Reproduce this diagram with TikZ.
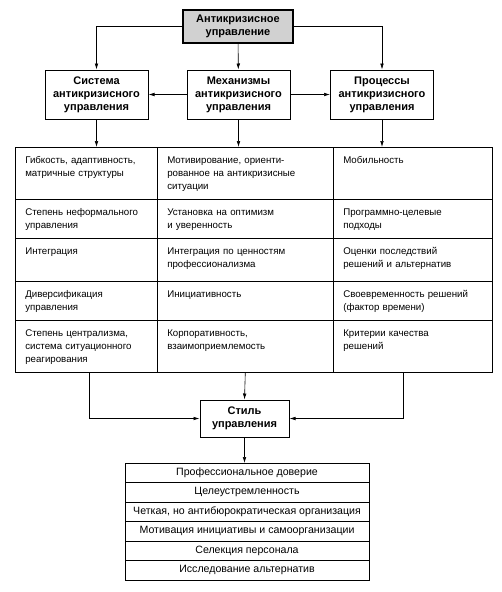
\documentclass[tikz,border=0pt]{standalone}
\usepackage{fontspec}
\setmainfont{Liberation Sans}
\usetikzlibrary{arrows.meta, positioning}

\begin{document}
\begin{tikzpicture}[
    x=1pt, y=-1pt,
    font=\fontsize{9.7}{13.3}\selectfont,
    >={Latex[length=6pt, width=3.6pt]},
    % ── shared styles ──
    head box/.style={draw, line width=1pt, align=center, inner sep=0pt,
        font=\fontsize{11}{13}\selectfont\bfseries,
        minimum width=103pt, minimum height=49pt},
    root box/.style={head box, fill=black!18, line width=1.3pt,
        minimum width=110pt, minimum height=33pt},
    style box/.style={head box, minimum width=89pt, minimum height=37pt},
    cell/.style={draw, line width=0.6pt, anchor=north west, align=left,
        inner xsep=10pt, inner ysep=0pt, text height=16pt, text depth=#1},
    trait/.style={draw, line width=0.6pt, inner sep=0pt, outer sep=0pt,
        font=\fontsize{10.6}{13}\selectfont,
        minimum width=244pt, minimum height=19.5pt},
    link/.style={->, line width=0.6pt},
]

% ══════════════════════════════════════════════════════════════════════
%  DIMENSIONS — table columns and row tops
% ══════════════════════════════════════════════════════════════════════
\def\cA{15}   \def\cB{157}  \def\cC{333}      % column left edges
\def\wA{122pt} \def\wB{156pt} \def\wC{139pt}  % text widths
\def\rA{147}  \def\rB{199}  \def\rC{238}  \def\rD{281}  \def\rE{320}

\useasboundingbox (0,0) rectangle (501,592);

% ══════════════════════════════════════════════════════════════════════
%  HEADER BOXES
% ══════════════════════════════════════════════════════════════════════
\node[root box] (crisis) at (238,26.5) {Антикризисное\\управление};
\node[head box] (sys)  at (96.5,94.5)  {Система\\антикризисного\\управления};
\node[head box] (mech) at (238.5,94.5) {Механизмы\\антикризисного\\управления};
\node[head box] (proc) at (382,94.5)   {Процессы\\антикризисного\\управления};

% ══════════════════════════════════════════════════════════════════════
%  TABLE — system column
% ══════════════════════════════════════════════════════════════════════
\node[cell=36pt, text width=\wA] (s1) at (\cA,\rA) {Гибкость,~адаптивность,\\матричные структуры};
\node[cell=23pt, text width=\wA] (s2) at (\cA,\rB) {Степень~неформального\\управления};
\node[cell=27pt, text width=\wA] (s3) at (\cA,\rC) {Интеграция};
\node[cell=23pt, text width=\wA] (s4) at (\cA,\rD) {Диверсификация\\управления};
\node[cell=36pt, text width=\wA] (s5) at (\cA,\rE)
    {Степень~централизма,\\система~ситуационного\\реагирования};

% ══════════════════════════════════════════════════════════════════════
%  TABLE — mechanisms column
% ══════════════════════════════════════════════════════════════════════
\node[cell=36pt, text width=\wB] (m1) at (\cB,\rA)
    {Мотивирование,~ориенти-\\рованное~на~антикризисные\\ситуации};
\node[cell=23pt, text width=\wB] (m2) at (\cB,\rB) {Установка на оптимизм\\и уверенность};
\node[cell=27pt, text width=\wB] (m3) at (\cB,\rC) {Интеграция по ценностям\\профессионализма};
\node[cell=23pt, text width=\wB] (m4) at (\cB,\rD) {Инициативность};
\node[cell=36pt, text width=\wB] (m5) at (\cB,\rE) {Корпоративность,\\взаимоприемлемость};

% ══════════════════════════════════════════════════════════════════════
%  TABLE — processes column
% ══════════════════════════════════════════════════════════════════════
\node[cell=36pt, text width=\wC] (p1) at (\cC,\rA) {Мобильность};
\node[cell=23pt, text width=\wC] (p2) at (\cC,\rB) {Программно-целевые\\подходы};
\node[cell=27pt, text width=\wC] (p3) at (\cC,\rC) {Оценки последствий\\решений~и~альтернатив};
\node[cell=23pt, text width=\wC] (p4) at (\cC,\rD)
    {Своевременность~решений\\(фактор времени)};
\node[cell=36pt, text width=\wC] (p5) at (\cC,\rE) {Критерии качества\\решений};

% ══════════════════════════════════════════════════════════════════════
%  MANAGEMENT STYLE + TRAITS
% ══════════════════════════════════════════════════════════════════════
\node[style box] (stil) at (244.5,418.5) {Стиль\\управления};

\node[trait, anchor=north] (f1) at (247,463) {Профессиональное доверие};
\node[trait, below=0pt of f1] (f2) {Целеустремленность};
\node[trait, below=0pt of f2] (f3) {Четкая, но антибюрократическая организация};
\node[trait, below=0pt of f3] (f4) {Мотивация инициативы и самоорганизации};
\node[trait, below=0pt of f4] (f5) {Селекция персонала};
\node[trait, below=0pt of f5] (f6) {Исследование альтернатив};

% ══════════════════════════════════════════════════════════════════════
%  CONNECTORS
% ══════════════════════════════════════════════════════════════════════
\draw[link] (crisis.west) -| (sys.north);
\draw[link] (crisis.east) -| (proc.north);
\draw[link] (crisis) -- (mech);
\draw[link] (mech.west) -- (sys.east);
\draw[link] (mech.east) -- (proc.west);

\draw[link] (sys.south)  -- (sys.south |- s1.north);
\draw[link] (mech.south) -- (mech.south |- m1.north);
\draw[link] (proc.south) -- (proc.south |- p1.north);

\draw[link] ([xshift=3pt]s5.south) |- (stil.west);
\draw[link] (m5.south) -- (stil.north);
\draw[link] ([xshift=-10pt]p5.south) |- (stil.east);
\draw[link] (stil.south) -- (stil.south |- f1.north);

\end{tikzpicture}
\end{document}
